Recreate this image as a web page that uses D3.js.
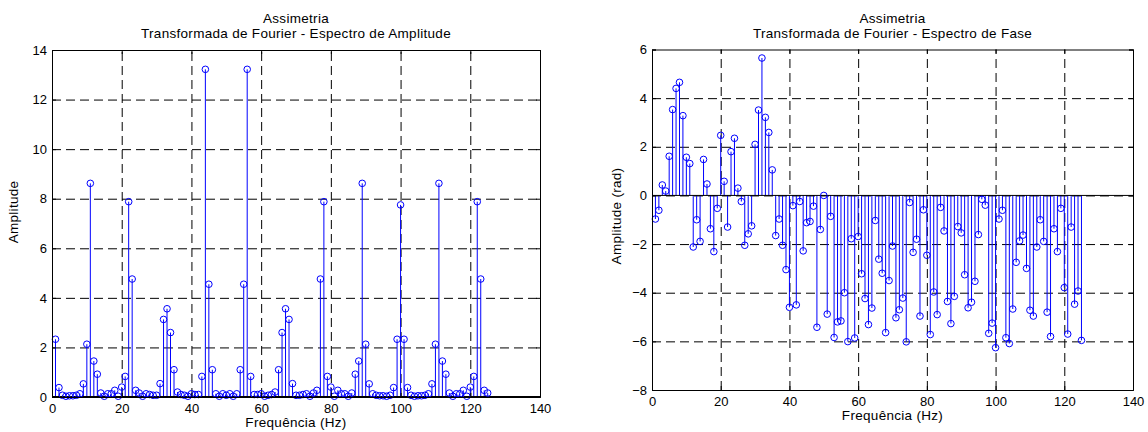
<!DOCTYPE html>
<html>
<head>
<meta charset="utf-8">
<script src="https://cdn.jsdelivr.net/npm/d3@7"></script>
<style>
  body { margin: 0; background: #fff; }
  svg { display: block; font-family: "Liberation Sans", Arial, sans-serif; }
  .tick text { font-size: 13px; fill: #000; }
  .grid line { stroke: #000; stroke-dasharray: 9,5; stroke-width: 1; }
  .grid path { display: none; }
</style>
</head>
<body>
<div id="chart"></div>
<script>
const width = 1148;
const height = 432;

// frequencias (Hz) das amostras
const freqHz = [
  1, 2, 3, 4, 5, 6, 7, 8, 9, 10, 11, 12, 13, 14, 15, 16, 17, 18, 19, 20,
  21, 22, 23, 24, 25, 26, 27, 28, 29, 30, 31, 32, 33, 34, 35, 36, 37, 38, 39, 40,
  41, 42, 43, 44, 45, 46, 47, 48, 49, 50, 51, 52, 53, 54, 55, 56, 57, 58, 59, 60,
  61, 62, 63, 64, 65, 66, 67, 68, 69, 70, 71, 72, 73, 74, 75, 76, 77, 78, 79, 80,
  81, 82, 83, 84, 85, 86, 87, 88, 89, 90, 91, 92, 93, 94, 95, 96, 97, 98, 99, 100,
  101, 102, 103, 104, 105, 106, 107, 108, 109, 110, 111, 112, 113, 114, 115, 116, 117, 118, 119, 120,
  121, 122, 123, 124, 125
];

// espectro de amplitude
const amplitude = [
  2.33, 0.38, 0.07, 0.03, 0.05, 0.05, 0.07, 0.13, 0.53, 2.13,
  8.62, 1.45, 0.92, 0.16, 0.03, 0.13, 0.13, 0.27, 0.03, 0.40,
  0.83, 7.88, 4.76, 0.27, 0.16, 0.03, 0.13, 0.10, 0.07, 0.07,
  0.54, 3.13, 3.56, 2.60, 1.10, 0.20, 0.10, 0.07, 0.03, 0.13,
  0.10, 0.10, 0.83, 13.22, 4.55, 1.10, 0.13, 0.03, 0.13, 0.07,
  0.13, 0.03, 0.13, 1.10, 4.55, 13.22, 0.83, 0.10, 0.10, 0.13,
  0.03, 0.07, 0.10, 0.20, 1.10, 2.60, 3.56, 3.13, 0.54, 0.07,
  0.07, 0.10, 0.13, 0.03, 0.16, 0.27, 4.76, 7.88, 0.83, 0.40,
  0.03, 0.27, 0.13, 0.13, 0.03, 0.16, 0.92, 1.45, 8.62, 2.13,
  0.53, 0.13, 0.07, 0.05, 0.05, 0.03, 0.07, 0.38, 2.33, 7.75,
  2.33, 0.38, 0.07, 0.03, 0.05, 0.05, 0.07, 0.13, 0.53, 2.13,
  8.62, 1.45, 0.92, 0.16, 0.03, 0.13, 0.13, 0.27, 0.03, 0.40,
  0.83, 7.88, 4.76, 0.27, 0.16
];

// espectro de fase (rad)
const phase = [
  -0.97, -0.61, 0.43, 0.18, 1.61, 3.53, 4.40, 4.65, 3.28, 1.57,
  1.31, -2.12, -1.00, -1.89, 1.48, 0.47, -1.37, -2.31, -0.53, 2.47,
  0.58, -1.30, 1.80, 2.35, 0.30, -0.25, -2.05, -1.58, -1.25, 2.10,
  3.51, 5.65, 3.21, 2.59, 1.05, -1.65, -0.97, -2.05, -3.05, -4.60,
  -0.42, -4.50, -0.25, -2.28, -1.12, -1.07, -0.44, -5.42, -1.40, 0.00,
  -4.88, -0.86, -5.84, -5.20, -5.16, -4.00, -6.01, -1.78, -5.86, -1.69,
  -3.22, -4.24, -5.31, -4.63, -1.03, -2.62, -3.20, -5.64, -3.50, -2.08,
  -5.03, -4.70, -4.22, -6.02, -0.29, -2.34, -1.80, -4.96, -0.59, -2.46,
  -5.72, -3.97, -4.90, -0.49, -1.46, -4.36, -5.27, -4.15, -1.28, -1.54,
  -3.26, -4.62, -4.39, -3.53, -1.61, -0.16, -0.40, -5.67, -5.25, -6.26,
  -0.97, -0.61, -5.85, -6.09, -4.67, -2.75, -1.87, -1.63, -3.00, -4.72,
  -4.96, -2.12, -1.00, -1.89, -4.80, -5.80, -1.37, -2.31, -0.53, -3.79,
  -5.70, -1.30, -4.47, -3.93, -5.96
];

const xTicks = [0, 20, 40, 60, 80, 100, 120, 140];
const ampTicks = [0, 2, 4, 6, 8, 10, 12, 14];
const phaseTicks = [-8, -6, -4, -2, 0, 2, 4, 6];

const stemColor = "#0000ff";

const svg = d3.select("#chart")
  .append("svg")
  .attr("width", width)
  .attr("height", height);

function drawPanel(opt) {
  const x = d3.scaleLinear().domain([0, 140]).range([opt.left, opt.right]);
  const y = d3.scaleLinear().domain(opt.yDomain).range([opt.bottom, opt.top]);
  const g = svg.append("g");

  // grelha tracejada
  g.append("g")
    .attr("class", "grid")
    .attr("transform", "translate(0," + opt.bottom + ")")
    .call(d3.axisBottom(x).tickValues(xTicks.slice(1, -1)).tickSize(-(opt.bottom - opt.top)).tickFormat(""));
  g.append("g")
    .attr("class", "grid")
    .attr("transform", "translate(" + opt.left + ",0)")
    .call(d3.axisLeft(y).tickValues(opt.yTicks.slice(1, -1)).tickSize(-(opt.right - opt.left)).tickFormat(""));

  const pts = freqHz.map(function(f, i) { return { f: f, v: opt.values[i] }; });

  g.selectAll(".stem")
    .data(pts)
    .enter()
    .append("line")
    .attr("class", "stem")
    .attr("x1", function(d) { return x(d.f); })
    .attr("x2", function(d) { return x(d.f); })
    .attr("y1", y(0))
    .attr("y2", function(d) { return y(d.v); })
    .attr("stroke", stemColor)
    .attr("stroke-width", 1);

  // linha de base
  g.append("line")
    .attr("x1", x(0)).attr("x2", x(140))
    .attr("y1", y(0)).attr("y2", y(0))
    .attr("stroke", "#000")
    .attr("stroke-width", opt.baseWidth);

  g.selectAll(".mark")
    .data(pts)
    .enter()
    .append("circle")
    .attr("class", "mark")
    .attr("cx", function(d) { return x(d.f); })
    .attr("cy", function(d) { return y(d.v); })
    .attr("r", 3.3)
    .attr("fill", "none")
    .attr("stroke", stemColor)
    .attr("stroke-width", 1);

  // eixos (caixa com ticks para dentro)
  const ax = g.append("g").attr("transform", "translate(0," + opt.bottom + ")")
    .call(d3.axisBottom(x).tickValues(xTicks).tickSize(-4).tickPadding(7));
  g.append("g").attr("transform", "translate(0," + opt.top + ")")
    .call(d3.axisTop(x).tickValues(xTicks).tickSize(-4).tickFormat(""));
  const ay = g.append("g").attr("transform", "translate(" + opt.left + ",0)")
    .call(d3.axisLeft(y).tickValues(opt.yTicks).tickSize(-4).tickPadding(5));
  g.append("g").attr("transform", "translate(" + opt.right + ",0)")
    .call(d3.axisRight(y).tickValues(opt.yTicks).tickSize(-4).tickFormat(""));
  g.selectAll(".domain").attr("stroke", "#000");
  g.selectAll(".tick line").attr("stroke", "#000");
  ax.selectAll("text").attr("dy", "0.71em");

  const cx = (opt.left + opt.right) / 2;
  g.append("text")
    .attr("x", cx).attr("y", 23)
    .attr("text-anchor", "middle")
    .attr("font-size", "13.5px")
    .attr("letter-spacing", "0.3px")
    .text("Assimetria");
  g.append("text")
    .attr("x", cx).attr("y", 37.5)
    .attr("text-anchor", "middle")
    .attr("font-size", "13.5px")
    .attr("letter-spacing", "0.3px")
    .text(opt.title);

  g.append("text")
    .attr("x", cx).attr("y", opt.bottom + 30)
    .attr("text-anchor", "middle")
    .attr("font-size", "13.5px")
    .attr("letter-spacing", "0.3px")
    .text("Frequência (Hz)");

  g.append("text")
    .attr("transform", "translate(" + opt.yLabelX + "," + opt.yLabelY + ") rotate(-90)")
    .attr("text-anchor", "middle")
    .attr("font-size", "13.5px")
    .attr("letter-spacing", "0.3px")
    .text(opt.yLabel);
}

drawPanel({
  left: 52, right: 540, top: 50, bottom: 397,
  yDomain: [0, 14], yTicks: ampTicks, values: amplitude,
  baseWidth: 2,
  title: "Transformada de Fourier - Espectro de Amplitude",
  yLabel: "Amplitude", yLabelX: 18, yLabelY: 212
});

drawPanel({
  left: 652, right: 1133, top: 49.5, bottom: 390,
  yDomain: [-8, 6], yTicks: phaseTicks, values: phase,
  baseWidth: 1,
  title: "Transformada de Fourier - Espectro de Fase",
  yLabel: "Amplitude (rad)", yLabelX: 621, yLabelY: 216
});
</script>
</body>
</html>
